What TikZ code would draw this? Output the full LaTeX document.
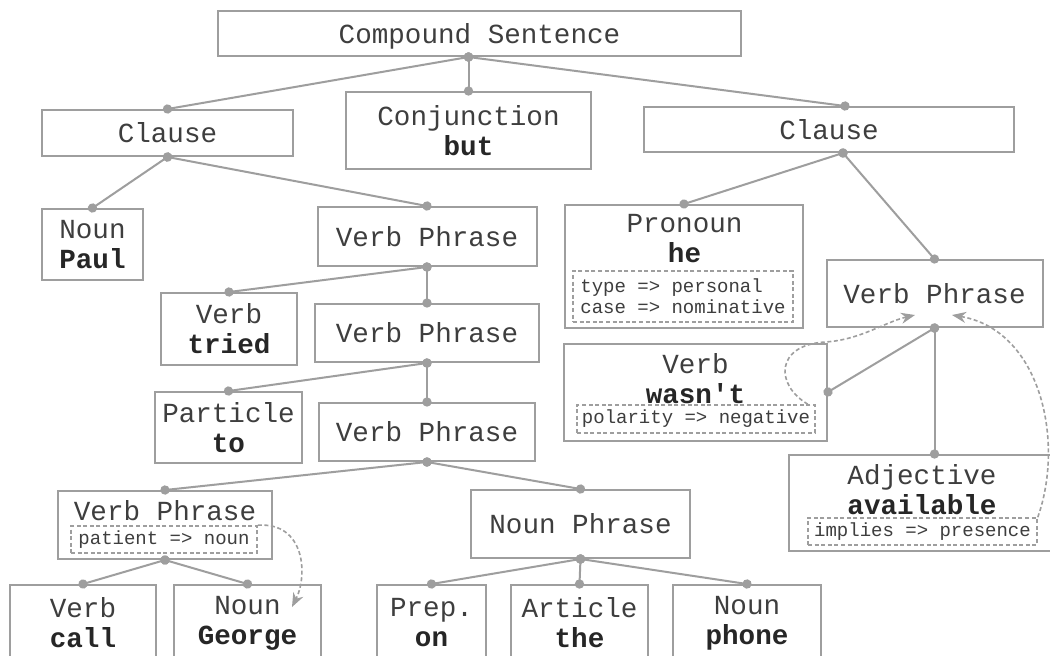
\documentclass[tikz,border=0pt]{standalone}
\usepackage{fontspec}
\setmonofont{Liberation Mono}
\usetikzlibrary{arrows.meta}

\definecolor{linegray}{RGB}{158,158,158}
\definecolor{textgray}{RGB}{62,62,62}
\newcommand\catfont{\ttfamily\fontsize{13.8}{15}\selectfont}
\newcommand\featfont{\ttfamily\fontsize{9.5}{10.5}\selectfont}
\newcommand\wrd[1]{\textbf{\color{black!85}#1}}

\tikzset{
  box/.style={draw=linegray, line width=1pt, inner sep=0pt, text=textgray, font=\catfont, align=center},
  lbl/.style={inner sep=0pt, text=textgray, font=\catfont, align=center},
  feat/.style={draw=linegray, line width=0.8pt, dash pattern=on 2pt off 1.3pt, inner sep=0pt, text=textgray, font=\featfont, align=left},
  link/.style={draw=linegray, line width=1pt, {Circle[length=4.6pt]}-{Circle[length=4.6pt]}, shorten <=-2.3pt, shorten >=-2.3pt},
  hint/.style={draw=linegray, line width=0.8pt, dash pattern=on 2pt off 1.3pt, -{Stealth[length=7pt,width=5.5pt]}},
}

\begin{document}
\begin{tikzpicture}[x=0.5pt, y=-0.5pt]
\fill[white] (0,0) rectangle (1050,655);
\useasboundingbox (0,0) rectangle (1050,655);

% sentence and clauses
\node[box, minimum width=261.5pt, minimum height=22.5pt, text depth=0pt] (cs) at (479.5,33.5) {Compound Sentence};
\node[box, minimum width=125.5pt, minimum height=23pt] (cl1) at (167.5,133) {Clause};
\node[box, minimum width=122.5pt, minimum height=38.5pt] (conj) at (468.5,130.5) {Conjunction\\\wrd{but}};
\node[box, minimum width=185pt, minimum height=22.5pt] (cl2) at (829,129.5) {Clause};

% left clause
\node[box, minimum width=50.5pt, minimum height=35.5pt] (paul) at (92.5,244.5) {Noun\\\wrd{Paul}};
\node[box, minimum width=109.5pt, minimum height=29.5pt] (vp1) at (427,236.5) {Verb Phrase};
\node[box, minimum width=68pt, minimum height=36pt] (tried) at (229,329) {Verb\\\wrd{tried}};
\node[box, minimum width=112pt, minimum height=29pt] (vp2) at (427,333) {Verb Phrase};
\node[box, minimum width=73.5pt, minimum height=35.5pt] (part) at (228.5,427.5) {Particle\\\wrd{to}};
\node[box, minimum width=108pt, minimum height=29pt] (vp3) at (427,432) {Verb Phrase};

\node[box, minimum width=107pt, minimum height=34pt] (vp4) at (165,525) {};
\node[lbl] (vp4T) at (165,511) {Verb Phrase};
\node[feat, minimum width=93pt, minimum height=13.5pt] (vp4F) at (164,539.5) {patient => noun};
\node[box, minimum width=109.5pt, minimum height=34pt] (np) at (580.5,524) {Noun Phrase};

\node[box, minimum width=73pt, minimum height=38pt] (call) at (83,623) {Verb\\\wrd{call}};
\node[box, minimum width=73.5pt, minimum height=38pt] (george) at (247.5,623) {Noun\\\wrd{George}};
\node[box, minimum width=54.5pt, minimum height=38pt] (prep) at (431.5,623) {Prep.\\\wrd{on}};
\node[box, minimum width=68.5pt, minimum height=38pt] (art) at (579.5,623) {Article\\\wrd{the}};
\node[box, minimum width=74pt, minimum height=38pt] (phone) at (747,623) {Noun\\\wrd{phone}};

% right clause
\node[box, minimum width=119pt, minimum height=61.5pt] (he) at (684,266.5) {};
\node[lbl] (heT) at (684.5,239) {Pronoun\\\wrd{he}};
\node[feat, minimum width=110pt, minimum height=25.5pt] (heF) at (683,296.5) {type => personal\\case => nominative};
\node[box, minimum width=108pt, minimum height=33.5pt] (vpr) at (934.5,293.5) {Verb Phrase};

\node[box, minimum width=131.5pt, minimum height=48.5pt] (wasnt) at (695.5,392) {};
\node[lbl] (wasntT) at (695.5,378.5) {Verb\\\wrd{wasn't}};
\node[feat, minimum width=119pt, minimum height=14pt] (wasntF) at (696,419) {polarity => negative};

\node[box, minimum width=133pt, minimum height=48pt] (avail) at (922,503) {};
\node[lbl] (availT) at (922,489.5) {Adjective\\\wrd{available}};
\node[feat, minimum width=114.5pt, minimum height=13.5pt] (availF) at (922.5,531.5) {implies => presence};

% tree links
\draw[link] (cs.south -| conj.north) -- (cl1.north);
\draw[link] (cs.south -| conj.north) -- (conj.north);
\draw[link] (cs.south -| conj.north) -- ([xshift=8pt]cl2.north);
\draw[link] (cl1.south) -- (paul.north);
\draw[link] (cl1.south) -- (vp1.north);
\draw[link] (vp1.south) -- (tried.north);
\draw[link] (vp1.south) -- (vp2.north);
\draw[link] (vp2.south) -- (part.north);
\draw[link] (vp2.south) -- (vp3.north);
\draw[link] (vp3.south) -- (vp4.north);
\draw[link] (vp3.south) -- (np.north);
\draw[link] (vp4.south) -- (call.north);
\draw[link] (vp4.south) -- (george.north);
\draw[link] (np.south) -- (prep.north);
\draw[link] (np.south) -- (art.north);
\draw[link] (np.south) -- (phone.north);
\draw[link] ([xshift=7pt]cl2.south) -- (he.north);
\draw[link] ([xshift=7pt]cl2.south) -- (vpr.north);
\draw[link] (vpr.south) -- (wasnt.east);
\draw[link] (vpr.south) -- (vpr.south |- avail.north);

% feature pointers
\coordinate (georgeTip) at (292,607);
\coordinate (vprTipL) at (915,315);
\coordinate (vprTipR) at (952,315);
\draw[hint] (vp4F.north east) .. controls (305,522) and (308,575) .. (georgeTip);
\draw[hint] ([xshift=-4pt]wasntF.north east) .. controls (775,385) and (775,345) .. (825,342)
  .. controls (860,340) and (885,322) .. (vprTipL);
\draw[hint] (availF.north east) .. controls (1065,440) and (1040,330) .. (vprTipR);

\end{tikzpicture}
\end{document}
